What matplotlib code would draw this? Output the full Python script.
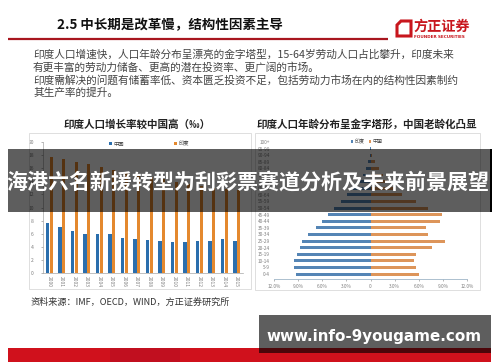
import matplotlib
matplotlib.use("Agg")
import matplotlib.pyplot as plt
from matplotlib.patches import Rectangle, Polygon
import numpy as np

plt.rcParams['font.family'] = ['Noto Sans CJK SC', 'DejaVu Sans']

# Left chart: population growth rate (per mille)
years = [str(y) for y in range(2000, 2016)]
china_growth = [7.6, 6.95, 6.45, 6.0, 5.9, 5.9, 5.3, 5.15, 5.05, 4.95, 4.75, 4.75, 4.9, 4.9, 5.15, 4.9]
india_growth = [17.75, 17.35, 17.0, 16.6, 16.15, 15.75, 15.4, 15.05, 14.7, 14.3, 13.9, 13.6, 13.3, 13.0, 12.8, 12.6]

# Right chart: age pyramid (% of population)
age_groups = ['0-4', '5-9', '10-14', '15-19', '20-24', '25-29', '30-34', '35-39', '40-44',
              '45-49', '50-54', '55-59', '60-64', '65-69', '70-74', '75-79', '80-84',
              '85-89', '90-94', '95-99', '100+']
india_age = [9.3, 9.5, 9.5, 9.2, 8.8, 8.5, 7.8, 6.8, 6.0, 5.3, 4.6, 3.7, 2.9, 2.2, 1.5,
             0.9, 0.5, 0.25, 0.08, 0.03, 0.01]
china_age = [6.0, 5.7, 5.45, 5.7, 7.6, 9.3, 7.15, 6.9, 8.6, 8.9, 7.15, 5.6, 3.9, 2.8, 2.0,
             1.6, 1.1, 0.5, 0.15, 0.03, 0.01]
pyr_ticks = [-12, -9, -6, -3, 0, 3, 6, 9, 12]

W, H = 500, 362
fig = plt.figure(figsize=(5, 3.62), dpi=100)
fig.patch.set_facecolor('white')

def box(x0, y0, x1, y1):
    # pixel box (top-left origin) -> figure fraction rect
    return [x0 / W, 1 - y1 / H, (x1 - x0) / W, (y1 - y0) / H]

grey_txt = '#7f7f7f'

# ---- bar chart
ax1 = fig.add_axes(box(43, 142, 243, 273))
x = np.arange(len(years))
bw = 0.27
ax1.bar(x - bw / 2 - 0.02, china_growth, bw, color='#2a6ead', label='中国')
ax1.bar(x + bw / 2 + 0.02, india_growth, bw, color='#e4892f', label='印度')
ax1.set_xlim(-0.5, len(years) - 0.5)
ax1.set_ylim(0, 20)
ax1.set_yticks(range(0, 21, 2))
ax1.set_xticks(x)
ax1.set_xticklabels(years, rotation=270)
ax1.tick_params(axis='both', labelsize=3.6, colors=grey_txt, length=1.5, width=0.4)
ax1.tick_params(axis='y', pad=5)
ax1.tick_params(axis='x', length=0, pad=2)
for s in ['top', 'right']:
    ax1.spines[s].set_visible(False)
for s in ['left', 'bottom']:
    ax1.spines[s].set_color('#a6a6a6')
    ax1.spines[s].set_linewidth(0.5)
ax1.legend(ncol=2, loc='upper center', bbox_to_anchor=(0.53, 1.04), fontsize=3.8,
           frameon=False, handlelength=0.5, handleheight=0.5, columnspacing=9.5,
           handletextpad=0.3, labelcolor='#404040')

# ---- age pyramid
ax2 = fig.add_axes(box(274, 138.7, 467, 279))
yy = np.arange(len(age_groups))
ax2.barh(yy, [-v for v in india_age], 0.45, color='#5585b5', label='印度')
ax2.barh(yy, china_age, 0.45, color='#dd955a', label='中国')
ax2.set_xlim(-12, 12)
ax2.set_ylim(-0.75, len(age_groups) - 0.5)
ax2.set_yticks(yy)
ax2.set_yticklabels(age_groups)
ax2.set_xticks(pyr_ticks)
ax2.set_xticklabels(['0' if t == 0 else '%.1f%%' % abs(t) for t in pyr_ticks])
ax2.tick_params(axis='both', labelsize=3.4, colors=grey_txt, width=0.4)
ax2.tick_params(axis='y', length=0, pad=3)
ax2.tick_params(axis='x', length=1.5, pad=2)
for s in ['top', 'right', 'left']:
    ax2.spines[s].set_visible(False)
ax2.spines['bottom'].set_color('#9fb5c8')
ax2.spines['bottom'].set_linewidth(0.6)
ax2.legend(ncol=2, loc='upper center', bbox_to_anchor=(0.48, 1.03), fontsize=3.6,
           frameon=False, handlelength=0.5, handleheight=0.5, columnspacing=0.8,
           handletextpad=0.3, labelcolor='#404040')

# ---- overlay: slide text, frames, banners
ov = fig.add_axes([0, 0, 1, 1], zorder=10)
ov.set_xlim(0, W)
ov.set_ylim(H, 0)
ov.axis('off')
ov.patch.set_alpha(0)

ov.text(57, 25, '2.5 中长期是改革慢，结构性因素主导', fontsize=9.7, fontweight='bold',
        color='#111111', va='center', ha='left')
ov.plot([8, 388], [38.5, 38.5], color='#a8161f', lw=1.6, solid_capstyle='butt')

# logo
ov.add_patch(Polygon([[397, 25], [401, 21], [411, 21], [411, 36], [397, 36]], closed=True,
                     fill=False, edgecolor='#c8161d', lw=2.2))
ov.text(413, 27, '方正证券', fontsize=10.2, fontweight='bold', color='#c8161d',
        va='center', ha='left')
ov.text(414, 37.5, 'FOUNDER SECURITIES', fontsize=3.0, fontweight='bold', color='#c8161d',
        va='center', ha='left', family='DejaVu Sans')

body = ['印度人口增速快，人口年龄分布呈漂亮的金字塔型，15-64岁劳动人口占比攀升，印度未来',
        '有更丰富的劳动力储备、更高的潜在投资率、更广阔的市场。',
        '印度需解决的问题有储蓄率低、资本匮乏投资不足，包括劳动力市场在内的结构性因素制约',
        '其生产率的提升。']
for i, line in enumerate(body):
    ov.text(33, 55 + i * 12.5, line, fontsize=7.7, color='#444444', va='center', ha='left')

ov.text(137, 125, '印度人口增长率较中国高（‰）', fontsize=7.6, fontweight='bold',
        color='#222222', va='center', ha='center')
ov.text(367, 125, '印度人口年龄分布呈金字塔形，中国老龄化凸显', fontsize=7.6, fontweight='bold',
        color='#222222', va='center', ha='center')

ov.add_patch(Rectangle((29, 133), 222, 156, fill=False, edgecolor='#d9d9d9', lw=0.6))
ov.add_patch(Rectangle((255, 133), 225, 157, fill=False, edgecolor='#d9d9d9', lw=0.6))

ov.text(31, 302.5, '资料来源：IMF，OECD，WIND，方正证券研究所', fontsize=6.6, color='#333333',
        va='center', ha='left')

# red footer band
ov.add_patch(Rectangle((8, 348), 483, 14, color='#d0111c', lw=0))
ov.add_patch(Rectangle((110, 348), 70, 14, color='#b80f22', lw=0, alpha=0.6))

# title banner
ov.add_patch(Rectangle((8, 149), 483, 63, color='black', alpha=0.63, lw=0))
ov.add_patch(Rectangle((489.5, 149), 2.5, 63, color='black', lw=0))
ov.text(248, 182, '海港六名新援转型为刮彩票赛道分析及未来前景展望', fontsize=15.1,
        fontweight='bold', color='white', va='center', ha='center')

# website watermark
ov.add_patch(Rectangle((259, 315), 232, 38, color='black', alpha=0.63, lw=0))
ov.text(374, 336, 'www.info-9yougame.com', fontsize=10.9, fontweight='bold', color='white',
        va='center', ha='center', family='DejaVu Sans')

fig.savefig('out.png', dpi=100)
